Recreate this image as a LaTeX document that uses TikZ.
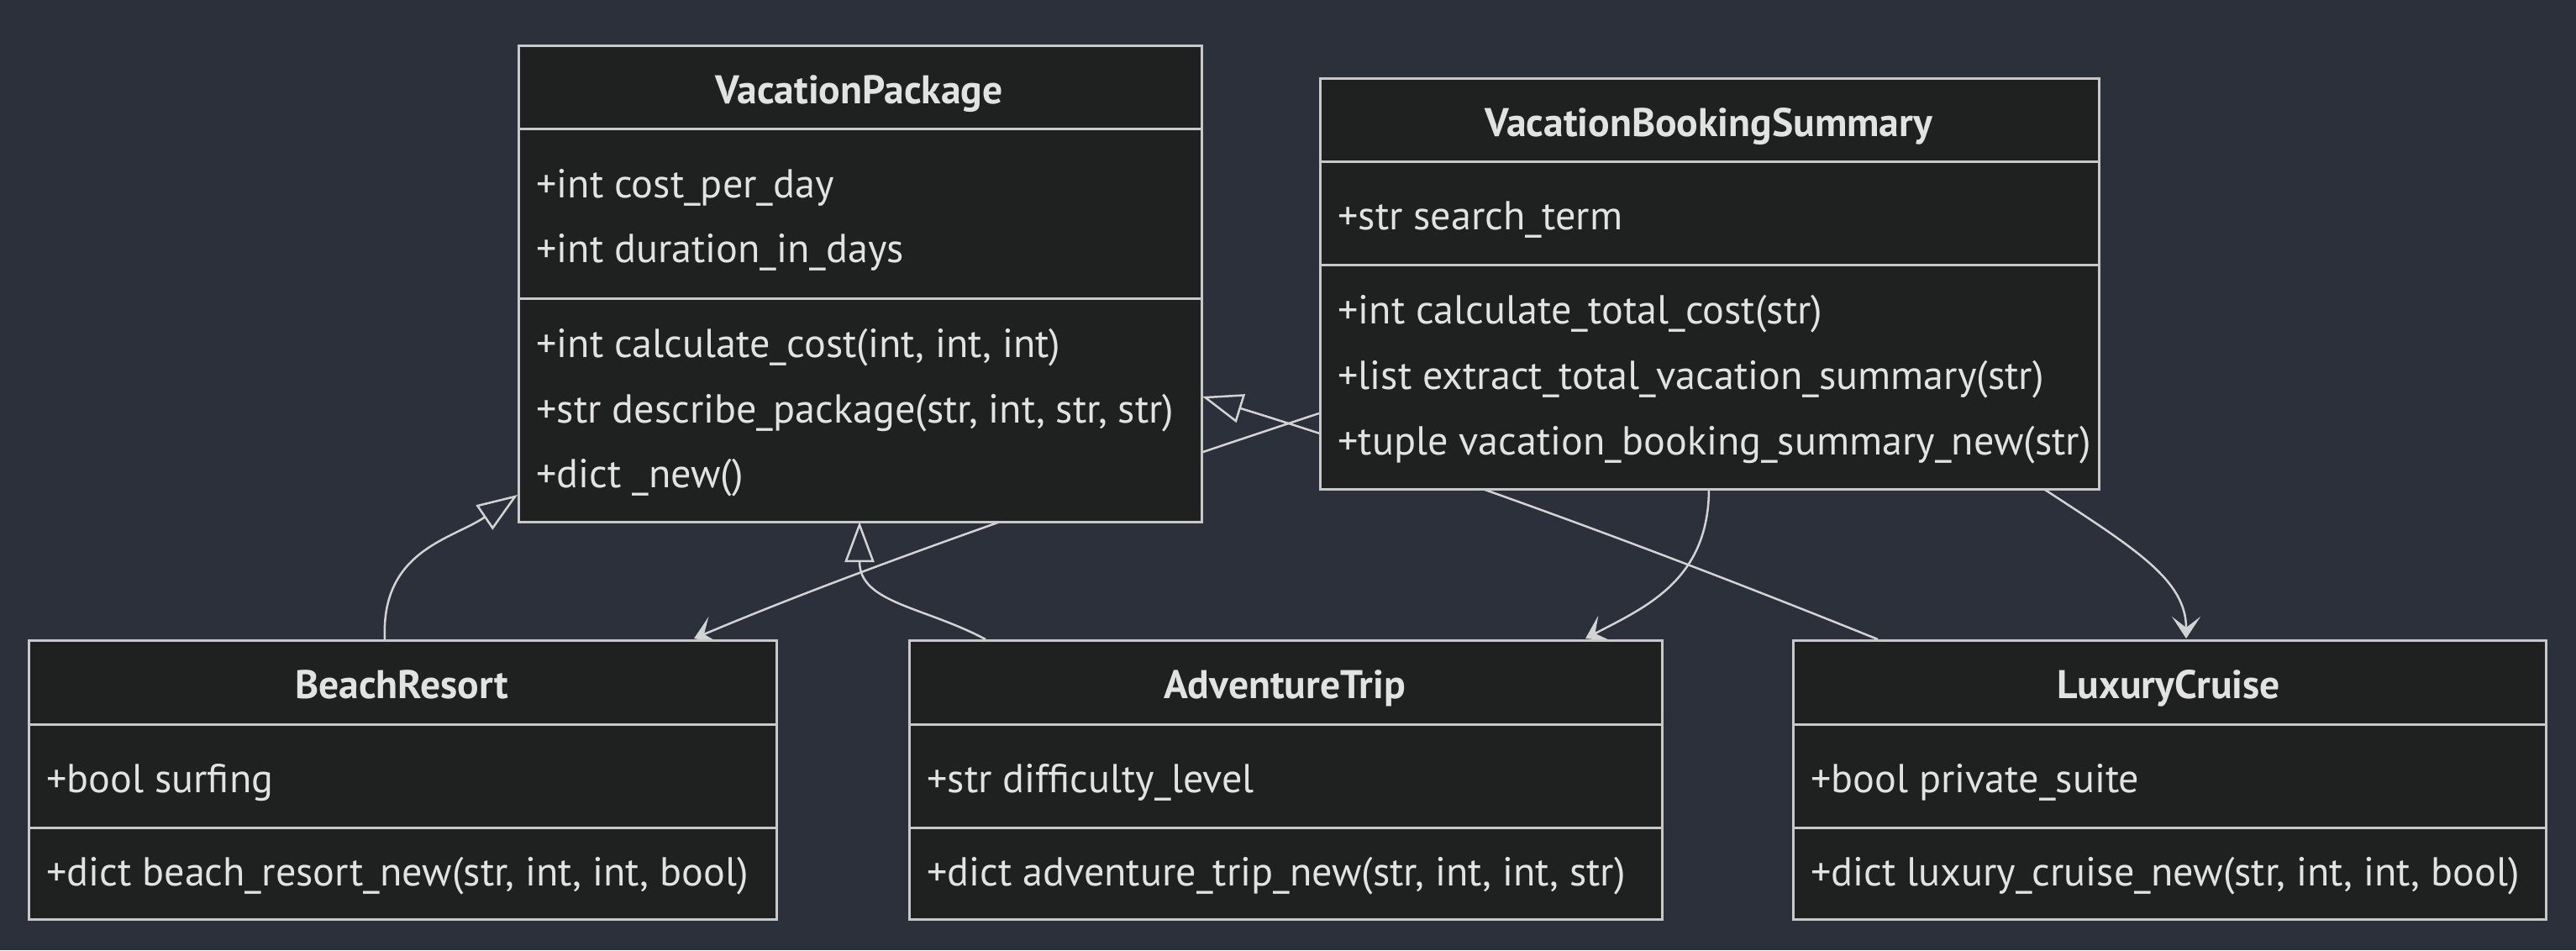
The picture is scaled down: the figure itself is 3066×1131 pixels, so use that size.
\documentclass[tikz,border=0pt]{standalone}
\usepackage{fontspec}
\setmainfont{PT Sans}
\usetikzlibrary{arrows.meta}
\definecolor{bg}{HTML}{2B303B}
\definecolor{boxfill}{HTML}{1F2020}
\definecolor{boxline}{HTML}{C8C8C8}
\definecolor{edgec}{HTML}{D3D3D3}
\definecolor{txt}{HTML}{E2E2E2}
\newlength\refwa
\newlength\refwb
\tikzset{
  box/.style={draw=boxline, fill=boxfill, line width=1.5pt, inner sep=0pt, anchor=north west},
  divline/.style={draw=boxline, line width=1.5pt},
  mem/.style={anchor=base west, inner sep=0pt, text=txt, font=\fontsize{\fsa}{\fsa}\selectfont},
  ttl/.style={anchor=base, inner sep=0pt, text=txt, font=\fontsize{\fsb}{\fsb}\selectfont\bfseries},
  conn/.style={draw=edgec, line width=1.25pt},
  inh/.style={conn, -{Triangle[open, length=24pt, width=17.5pt]}},
  dep/.style={conn, -{Stealth[length=13pt, width=17pt, inset=6.5pt, fill=edgec]}}
}
\begin{document}
\settowidth{\refwa}{\fontsize{10}{12}\selectfont +str describe\_package(str, int, str, str)+tuple vacation\_booking\_summary\_new(str)}%
\settowidth{\refwb}{\fontsize{10}{12}\selectfont\bfseries VacationPackageVacationBookingSummary}%
\pgfmathsetmacro\fsa{10*827.5/\refwa}%
\pgfmathsetmacro\fsb{10*437.5/\refwb}%
\begin{tikzpicture}[x=0.5pt,y=-0.5pt]
\path[fill=bg] (0,0) rectangle (3066,1131);
\useasboundingbox (0,0) rectangle (3066,1131);

% connector end points
\coordinate (br-up) at (458,761);
\coordinate (vp-l) at (616,589);
\coordinate (at-up) at (1173,761);
\coordinate (vp-b) at (1023,621);
\coordinate (lc-up) at (2235,761);
\coordinate (vp-r) at (1431,472);
\coordinate (vbs-l) at (1570,492);
\coordinate (br-in) at (826,760);
\coordinate (vbs-b1) at (2034,581);
\coordinate (at-in) at (1887,760);
\coordinate (vbs-b2) at (2431,581);
\coordinate (lc-in) at (2602,760);

% connectors
\draw[inh] (br-up) .. controls (453,655) and (538,642) .. (vp-l);
\draw[inh] (at-up) .. controls (1100,722) and (1023,718) .. (vp-b);
\draw[inh] (lc-up) .. controls (1960,650) and (1700,555) .. (vp-r);
\draw[dep] (vbs-l) .. controls (1200,614) and (980,695) .. (br-in);
\draw[dep] (vbs-b1) .. controls (2034,690) and (1960,722) .. (at-in);
\draw[dep] (vbs-b2) .. controls (2541,653) and (2602,690) .. (lc-in);

% VacationPackage
\node[box, minimum width=406.5pt, minimum height=283.5pt] (vp) at (616,53) {};
\draw[divline] (616,153) -- (1429,153);
\draw[divline] (616,355) -- (1429,355);
\node[ttl] (vpt) at (1022.5,123) {VacationPackage};
\node[mem] (vpa1) at (638,235) {+int cost\_per\_day};
\node[mem] (vpa2) at (638,312) {+int duration\_in\_days};
\node[mem] (vpm1) at (638,425) {+int calculate\_cost(int, int, int)};
\node[mem] (vpm2) at (638,503) {+str describe\_package(str, int, str, str)};
\node[mem] (vpm3) at (638,580) {+dict \_new()};

% VacationBookingSummary
\node[box, minimum width=463.5pt, minimum height=244.5pt] (vbs) at (1570,92) {};
\draw[divline] (1570,192) -- (2497,192);
\draw[divline] (1570,315) -- (2497,315);
\node[ttl] (vbst) at (2033.5,162) {VacationBookingSummary};
\node[mem] (vbsa1) at (1592,273) {+str search\_term};
\node[mem] (vbsm1) at (1592,385) {+int calculate\_total\_cost(str)};
\node[mem] (vbsm2) at (1592,463) {+list extract\_total\_vacation\_summary(str)};
\node[mem] (vbsm3) at (1592,541) {+tuple vacation\_booking\_summary\_new(str)};

% BeachResort
\node[box, minimum width=445pt, minimum height=166pt] (br) at (33,761) {};
\draw[divline] (33,862) -- (923,862);
\draw[divline] (33,985) -- (923,985);
\node[ttl] (brt) at (478,831) {BeachResort};
\node[mem] (bra1) at (55,943) {+bool surfing};
\node[mem] (brm1) at (55,1054) {+dict beach\_resort\_new(str, int, int, bool)};

% AdventureTrip
\node[box, minimum width=448pt, minimum height=166pt] (at) at (1081,761) {};
\draw[divline] (1081,862) -- (1977,862);
\draw[divline] (1081,985) -- (1977,985);
\node[ttl] (att) at (1529,831) {AdventureTrip};
\node[mem] (ata1) at (1103,943) {+str difficulty\_level};
\node[mem] (atm1) at (1103,1054) {+dict adventure\_trip\_new(str, int, int, str)};

% LuxuryCruise
\node[box, minimum width=448pt, minimum height=166pt] (lc) at (2133,761) {};
\draw[divline] (2133,862) -- (3029,862);
\draw[divline] (2133,985) -- (3029,985);
\node[ttl] (lct) at (2581,831) {LuxuryCruise};
\node[mem] (lca1) at (2155,943) {+bool private\_suite};
\node[mem] (lcm1) at (2155,1054) {+dict luxury\_cruise\_new(str, int, int, bool)};
\end{tikzpicture}
\end{document}
